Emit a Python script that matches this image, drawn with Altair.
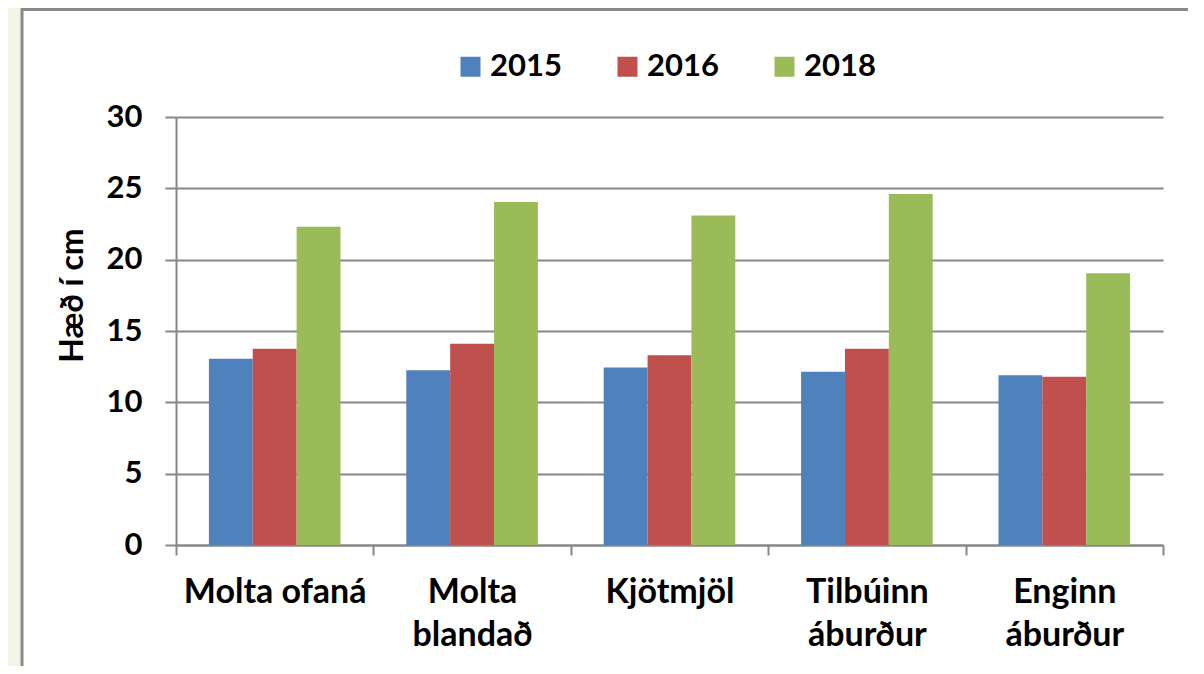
import altair as alt
import pandas as pd

categories = ["Molta ofaná", "Molta blandað", "Kjötmjöl", "Tilbúinn áburður", "Enginn áburður"]
years = ["2015", "2016", "2018"]
values_2015 = [13.05, 12.25, 12.45, 12.15, 11.9]
values_2016 = [13.75, 14.1, 13.3, 13.75, 11.8]
values_2018 = [22.3, 24.05, 23.1, 24.6, 19.05]
colors = ["#4F81BD", "#C0504D", "#9BBB59"]
y_ticks = [0, 5, 10, 15, 20, 25, 30]

rows = []
for yr, vals in zip(years, [values_2015, values_2016, values_2018]):
    for c, v in zip(categories, vals):
        rows.append({"flokkur": c, "ar": yr, "haed": v})
df = pd.DataFrame(rows)

FONT = "Lato"
GRID = "#878787"

bars = alt.Chart(df).mark_bar().encode(
    x=alt.X(
        "flokkur:N",
        sort=categories,
        scale=alt.Scale(paddingInner=0, paddingOuter=0),
        axis=alt.Axis(
            title=None,
            labelAngle=0,
            labelFont=FONT,
            labelFontSize=34,
            labelFontWeight="bold",
            labelColor="black",
            labelLineHeight=43,
            labelPadding=20,
            labelLimit=400,
            labelExpr="datum.label == 'Molta ofaná' ? datum.label : split(datum.label, ' ')",
            tickBand="extent",
            tickSize=10,
            tickColor=GRID,
            tickWidth=2,
            domainColor=GRID,
            domainWidth=2,
            grid=False,
        ),
    ),
    xOffset=alt.XOffset("ar:N", sort=years, scale=alt.Scale(paddingInner=0, paddingOuter=0.75)),
    y=alt.Y(
        "haed:Q",
        scale=alt.Scale(domain=[0, 30], nice=False),
        axis=alt.Axis(
            title="Hæð í cm",
            values=y_ticks,
            labelFont=FONT,
            labelFontSize=31,
            labelFontWeight="bold",
            labelColor="black",
            labelPadding=23,
            tickSize=11,
            tickColor=GRID,
            tickWidth=2,
            domainColor=GRID,
            domainWidth=2,
            grid=True,
            gridColor=GRID,
            gridWidth=2,
            titleFont=FONT,
            titleFontSize=32,
            titleFontWeight="bold",
            titleColor="black",
            titleAngle=-90,
            titleAlign="center",
            titleBaseline="middle",
            titleX=-104,
            titleY=178,
        ),
    ),
    color=alt.Color(
        "ar:N",
        sort=years,
        scale=alt.Scale(domain=years, range=colors),
        legend=alt.Legend(
            title=None,
            orient="none",
            legendX=279,
            legendY=-66,
            direction="horizontal",
            symbolType="square",
            symbolSize=400,
            symbolStrokeWidth=0,
            labelFont=FONT,
            labelFontSize=31,
            labelFontWeight="bold",
            labelColor="black",
            labelOffset=4,
            columnPadding=50,
            padding=0,
        ),
    ),
)

deco = pd.DataFrame({"k": [0]})

# light strip outside the chart frame (left side)
strip = alt.Chart(deco).mark_rect(fill="#f2f5e8").encode(
    x=alt.value(-170),
    x2=alt.value(-155.5),
    y=alt.value(-120),
    y2=alt.value(700),
)

# frame outline (no fill, so axes stay visible)
frame = alt.Chart(deco).mark_rect(filled=False, stroke="#898989", strokeWidth=3).encode(
    x=alt.value(-154),
    x2=alt.value(1100),
    y=alt.value(-107.5),
    y2=alt.value(700),
)

chart = alt.layer(strip, frame, bars).properties(
    width=987,
    height=428,
    autosize=alt.AutoSizeParams(type="none"),
    padding={"left": 168, "top": 109, "right": 25, "bottom": 121},
    background="white",
).configure_view(stroke=None)

chart.save("out.html", embed_options={"renderer": "svg", "actions": False})
